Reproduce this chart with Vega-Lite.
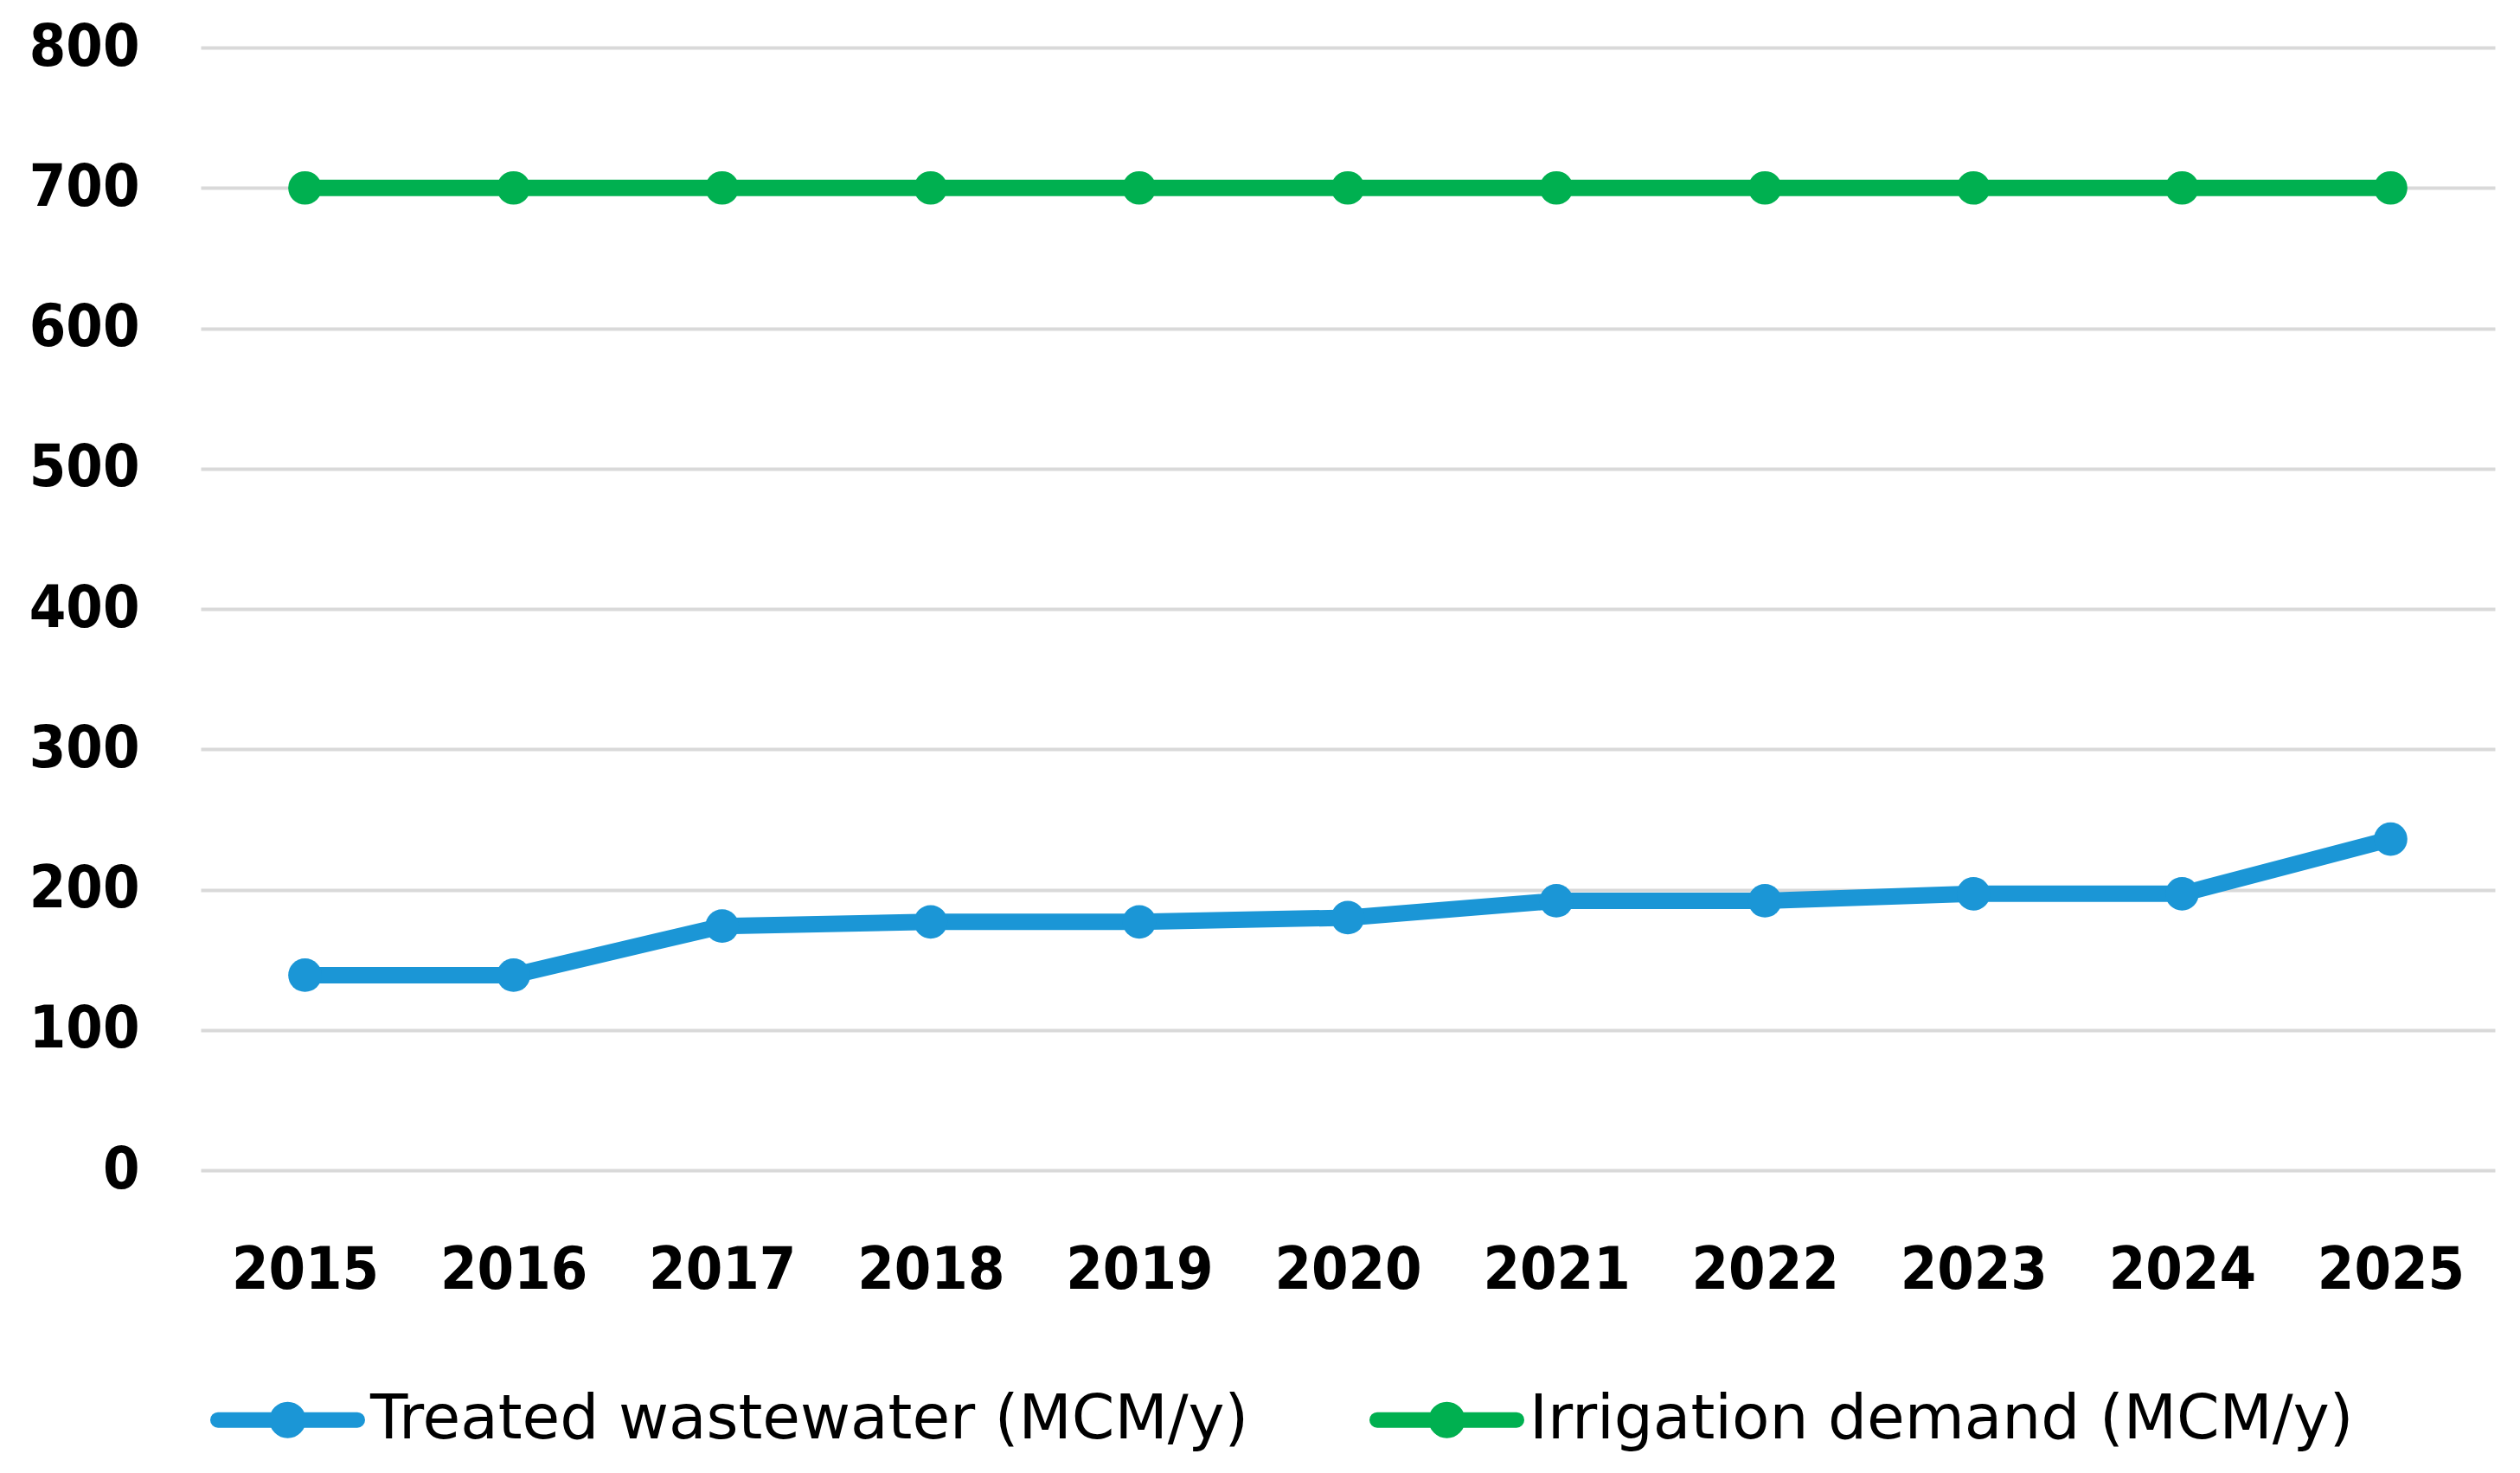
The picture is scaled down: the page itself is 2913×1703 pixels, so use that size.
{
  "$schema": "https://vega.github.io/schema/vega-lite/v6.json",
  "width": 2652,
  "height": 1298,
  "autosize": {"type": "none"},
  "padding": {"left": 232, "top": 55, "right": 29, "bottom": 350},
  "background": "white",
  "config": {"view": {"stroke": null}},
  "data": {
    "values": [
      {"year": "2015", "series": "Treated wastewater (MCM/y)", "value": 139},
      {"year": "2016", "series": "Treated wastewater (MCM/y)", "value": 139},
      {"year": "2017", "series": "Treated wastewater (MCM/y)", "value": 174},
      {"year": "2018", "series": "Treated wastewater (MCM/y)", "value": 177},
      {"year": "2019", "series": "Treated wastewater (MCM/y)", "value": 177},
      {"year": "2020", "series": "Treated wastewater (MCM/y)", "value": 180},
      {"year": "2021", "series": "Treated wastewater (MCM/y)", "value": 192},
      {"year": "2022", "series": "Treated wastewater (MCM/y)", "value": 192},
      {"year": "2023", "series": "Treated wastewater (MCM/y)", "value": 197},
      {"year": "2024", "series": "Treated wastewater (MCM/y)", "value": 197},
      {"year": "2025", "series": "Treated wastewater (MCM/y)", "value": 236},
      {"year": "2015", "series": "Irrigation demand (MCM/y)", "value": 700},
      {"year": "2016", "series": "Irrigation demand (MCM/y)", "value": 700},
      {"year": "2017", "series": "Irrigation demand (MCM/y)", "value": 700},
      {"year": "2018", "series": "Irrigation demand (MCM/y)", "value": 700},
      {"year": "2019", "series": "Irrigation demand (MCM/y)", "value": 700},
      {"year": "2020", "series": "Irrigation demand (MCM/y)", "value": 700},
      {"year": "2021", "series": "Irrigation demand (MCM/y)", "value": 700},
      {"year": "2022", "series": "Irrigation demand (MCM/y)", "value": 700},
      {"year": "2023", "series": "Irrigation demand (MCM/y)", "value": 700},
      {"year": "2024", "series": "Irrigation demand (MCM/y)", "value": 700},
      {"year": "2025", "series": "Irrigation demand (MCM/y)", "value": 700}
    ]
  },
  "encoding": {
    "x": {
      "field": "year",
      "type": "ordinal",
      "sort": null,
      "scale": {"type": "point", "padding": 0.5},
      "axis": {
        "title": null,
        "labelAngle": 0,
        "ticks": false,
        "domain": false,
        "grid": false,
        "labelFont": "DejaVu Sans Condensed",
        "labelFontWeight": "bold",
        "labelFontSize": 68,
        "labelColor": "#000000",
        "labelPadding": 82
      }
    },
    "y": {
      "field": "value",
      "type": "quantitative",
      "scale": {"domain": [0, 800], "nice": false},
      "axis": {
        "title": null,
        "values": [0, 100, 200, 300, 400, 500, 600, 700, 800],
        "ticks": false,
        "domain": false,
        "grid": true,
        "gridColor": "#d9d9d9",
        "gridWidth": 4,
        "labelFont": "DejaVu Sans Condensed",
        "labelFontWeight": "bold",
        "labelFontSize": 68,
        "labelColor": "#000000",
        "labelPadding": 71
      }
    },
    "color": {
      "field": "series",
      "type": "nominal",
      "scale": {
        "domain": ["Treated wastewater (MCM/y)", "Irrigation demand (MCM/y)"],
        "range": ["#1B96D6", "#00B050"]
      },
      "legend": {
        "title": null,
        "orient": "none",
        "direction": "horizontal",
        "legendX": 11,
        "legendY": 1497,
        "padding": 0,
        "symbolType": "M-1,0L1,0M0.15,0A0.15,0.15,0,1,1,-0.15,0A0.15,0.15,0,1,1,0.15,0Z",
        "symbolSize": 25921,
        "symbolStrokeWidth": 18,
        "symbolOpacity": 1,
        "labelFont": "DejaVu Sans",
        "labelFontSize": 71,
        "labelColor": "#000000",
        "labelOffset": 6,
        "labelLimit": 2000,
        "columnPadding": 112,
        "encode": {
          "symbols": {
            "update": {
              "fill": {"scale": "color", "field": "value"},
              "stroke": {"scale": "color", "field": "value"},
              "strokeCap": {"value": "round"},
              "opacity": {"value": 1}
            }
          }
        }
      }
    }
  },
  "layer": [
    {"mark": {"type": "line", "strokeWidth": 19}},
    {"mark": {"type": "point", "shape": "circle", "filled": true, "size": 1500, "opacity": 1}}
  ]
}
